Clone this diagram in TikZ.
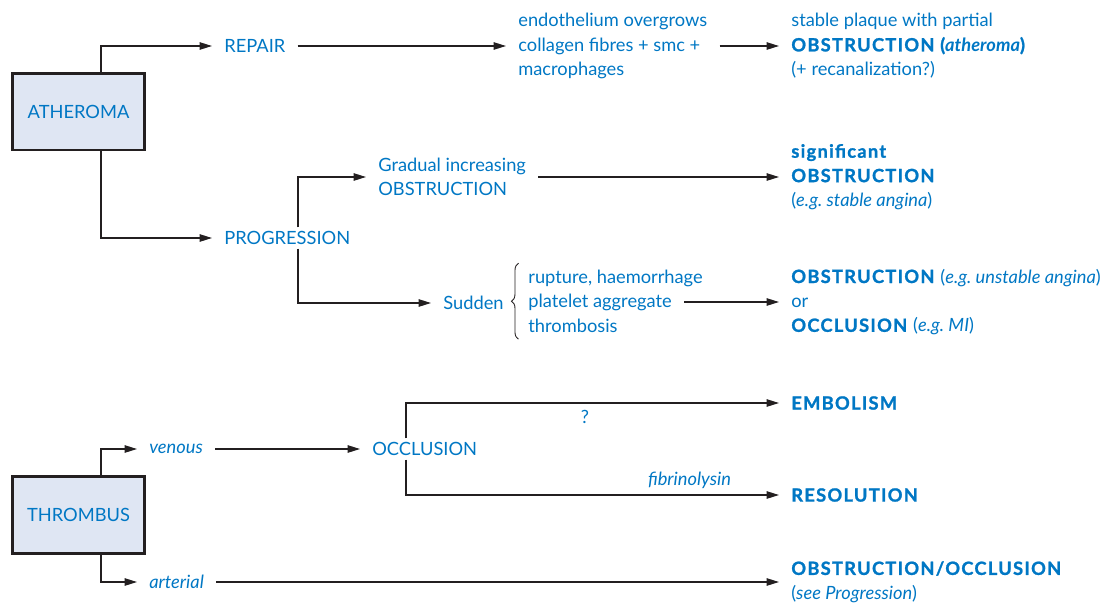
\documentclass[tikz,border=0pt]{standalone}
\usepackage{fontspec}
\setmainfont{Lato}[BoldFeatures={FakeBold=1.2,LetterSpace=7}]
\usetikzlibrary{arrows.meta,positioning,decorations.pathreplacing,calc}

\definecolor{txtblue}{RGB}{0,119,196}
\definecolor{boxfill}{RGB}{223,230,243}
\definecolor{linegray}{RGB}{35,31,32}

\tikzset{
  lbl/.style={anchor=west, text=txtblue, inner xsep=0.24cm, inner ysep=2pt,
    align=left, font=\fontsize{10.4}{13.9}\selectfont},
  headbox/.style={draw=linegray, line width=1.7pt, fill=boxfill, text=txtblue,
    minimum width=2.66cm, minimum height=1.54cm, inner sep=0pt,
    font=\fontsize{10.4}{13.9}\selectfont},
  arr/.style={draw=linegray, line width=0.75pt,
    -{Triangle[length=0.25cm,width=0.15cm]}},
  conn/.style={draw=linegray, line width=0.75pt}
}

\begin{document}
\begin{tikzpicture}[x=0.02cm,y=-0.02cm]
  \useasboundingbox (0,0) rectangle (1109,605);

  % atheroma
  \node[headbox] (ath) at (78.5,111.5) {ATHEROMA};
  \node[lbl] (repair) at (212,46) {REPAIR};
  \node[lbl] (prog) at (212,238) {PROGRESSION};
  \node[lbl] (endo) at (506,46) {endothelium overgrows\\collagen fibres + smc +\\macrophages};
  \node[lbl] (stable) at (779,46) {stable plaque with partial\\\textbf{OBSTRUCTION (\textit{atheroma})}\\(+ recanalization?)};
  \node[lbl] (gradual) at (366,177) {Gradual increasing\\OBSTRUCTION};
  \node[lbl] (signif) at (779,177) {\textbf{significant}\\\textbf{OBSTRUCTION}\\(\textit{e.g.\ stable angina})};
  \node[lbl] (sudden) at (431,303) {Sudden};
  \node[lbl] (rupture) at (516,278) {rupture, haemorrhage};
  \node[lbl] (platelet) at (516,302) {platelet aggregate};
  \node[lbl] (thromb) at (516,326) {thrombosis};
  \node[lbl] (sudres) at (779,302) {\textbf{OBSTRUCTION} (\textit{e.g.\ unstable angina})\\or\\\textbf{OCCLUSION} (\textit{e.g.\ MI})};

  \draw[arr] ([xshift=0.45cm]ath.north) |- (repair.west);
  \draw[arr] ([xshift=0.45cm]ath.south) |- (prog.west);
  \draw[arr] (repair.east) -- (endo.west);
  \draw[arr] (endo.east) -- (stable.west);
  \draw[arr] ([xshift=1.72cm]prog.north west) |- (gradual.west);
  \draw[arr] ([xshift=1.72cm]prog.south west) |- (sudden.west);
  \draw[arr] (gradual.east) -- (signif.west);
  \draw[arr] (platelet.east) -- (sudres.west);
  \draw[conn, line width=0.5pt, decorate, decoration={brace, amplitude=4pt}]
    ([xshift=0.05cm,yshift=-0.05cm]thromb.south west) -- ([xshift=0.05cm,yshift=0.05cm]rupture.north west);

  % thrombus
  \node[headbox] (thr) at (78.5,515) {THROMBUS};
  \node[lbl] (venous) at (137,449) {\textit{venous}};
  \node[lbl] (arterial) at (137,582) {\textit{arterial}};
  \node[lbl] (occl) at (360,449) {OCCLUSION};
  \node[lbl] (embol) at (779,403) {\textbf{EMBOLISM}};
  \node[lbl] (resol) at (779,495) {\textbf{RESOLUTION}};
  \node[lbl] (obocc) at (779,582) {\textbf{OBSTRUCTION/OCCLUSION}\\(\textit{see Progression})};

  \draw[arr] ([xshift=0.45cm]thr.north) |- (venous.west);
  \draw[arr] ([xshift=0.45cm]thr.south) |- (arterial.west);
  \draw[arr] (venous.east) -- (venous.east -| occl.west);
  \draw[arr] ([xshift=0.92cm]occl.north west) |- (embol.west)
    node[lbl, pos=0.74, anchor=north, inner ysep=4pt] (qmark) {?};
  \draw[arr] ([xshift=0.92cm]occl.south west) |- (resol.west)
    node[lbl, pos=0.88, anchor=south, inner ysep=3pt] (fibrin) {\textit{fibrinolysin}};
  \draw[arr] (arterial.east) -- (arterial.east -| obocc.west);
\end{tikzpicture}
\end{document}
